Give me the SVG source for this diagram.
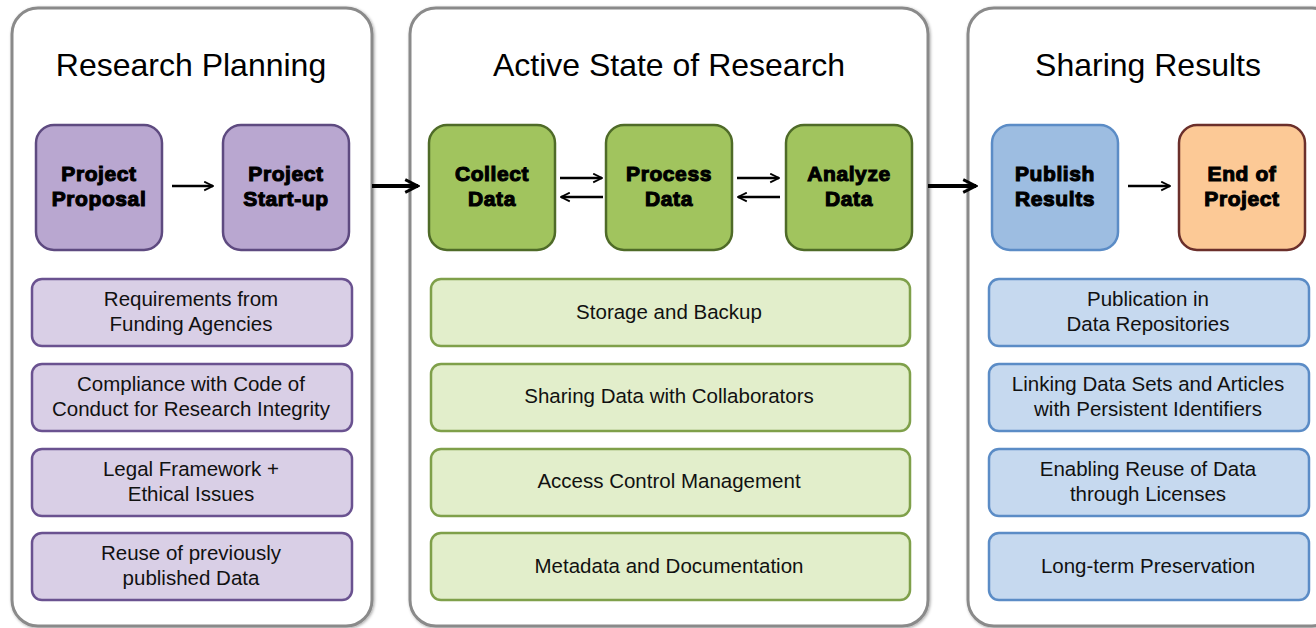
<svg xmlns="http://www.w3.org/2000/svg" width="1316" height="628" viewBox="0 0 1316 628">
<defs>
<filter id="sh" x="-5%" y="-5%" width="110%" height="110%"><feDropShadow dx="1" dy="1" stdDeviation="1.5" flood-color="#000" flood-opacity="0.35"/></filter>
<marker id="ah" viewBox="0 0 10 10" refX="9" refY="5" markerWidth="4.4" markerHeight="4.4" orient="auto" markerUnits="strokeWidth"><path d="M1,1 L9,5 L1,9" fill="none" stroke="#000" stroke-width="1.6"/></marker>
<marker id="ahb" viewBox="0 0 10 10" refX="9" refY="5" markerWidth="4" markerHeight="4" orient="auto" markerUnits="strokeWidth"><path d="M1,1 L9,5 L1,9" fill="none" stroke="#000" stroke-width="1.8"/></marker>
</defs>
<style>
.panel{fill:#fff;stroke:#8a8a8a;stroke-width:3;filter:url(#sh)}
.title{font-family:"Liberation Sans",Arial,sans-serif;font-size:32px;fill:#000;text-anchor:middle}
.big{font-family:"Liberation Sans",Arial,sans-serif;font-size:21px;font-weight:bold;fill:#000;text-anchor:middle;stroke:#000;stroke-width:1.1;letter-spacing:0.6px}
.small{font-family:"Liberation Sans",Arial,sans-serif;font-size:20.5px;fill:#111;text-anchor:middle}
.pN{fill:#b9a7d0;stroke:#5e4a80;stroke-width:2.5}
.pS{fill:#d9cfe6;stroke:#6a5290;stroke-width:2.5}
.gN{fill:#a1c45e;stroke:#4f6b28;stroke-width:2.5}
.gS{fill:#e2eecb;stroke:#7fa04a;stroke-width:2.5}
.bN{fill:#9dbde1;stroke:#5b8cc6;stroke-width:2.5}
.bS{fill:#c6d9ef;stroke:#5b8cc6;stroke-width:2.5}
.oN{fill:#fcc996;stroke:#6b2f2b;stroke-width:2.5}
.ar{stroke:#000;stroke-width:2.5;fill:none;marker-end:url(#ah)}
.arb{stroke:#000;stroke-width:4;fill:none;marker-end:url(#ahb)}
</style>
<g id="panel-planning">
<rect class="panel" x="12" y="8" width="360" height="618" rx="26"/>
<text class="title" x="191" y="76">Research Planning</text>
</g>
<g id="panel-active">
<rect class="panel" x="410" y="8" width="518" height="618" rx="26"/>
<text class="title" x="669" y="76">Active State of Research</text>
</g>
<g id="panel-sharing">
<rect class="panel" x="968" y="8" width="370" height="618" rx="26"/>
<text class="title" x="1148" y="76">Sharing Results</text>
</g>
<g id="project-proposal"><rect class="pN" x="36" y="125" width="126" height="125" rx="18"/><text class="big" x="99" y="181">Project</text><text class="big" x="99" y="206">Proposal</text></g>
<g id="project-startup"><rect class="pN" x="223" y="125" width="126" height="125" rx="18"/><text class="big" x="286" y="181">Project</text><text class="big" x="286" y="206">Start-up</text></g>
<g id="collect-data"><rect class="gN" x="429" y="125" width="126" height="125" rx="18"/><text class="big" x="492" y="181">Collect</text><text class="big" x="492" y="206">Data</text></g>
<g id="process-data"><rect class="gN" x="606" y="125" width="126" height="125" rx="18"/><text class="big" x="669" y="181">Process</text><text class="big" x="669" y="206">Data</text></g>
<g id="analyze-data"><rect class="gN" x="786" y="125" width="126" height="125" rx="18"/><text class="big" x="849" y="181">Analyze</text><text class="big" x="849" y="206">Data</text></g>
<g id="publish-results"><rect class="bN" x="992" y="125" width="126" height="125" rx="18"/><text class="big" x="1055" y="181">Publish</text><text class="big" x="1055" y="206">Results</text></g>
<g id="end-of-project"><rect class="oN" x="1179" y="125" width="126" height="125" rx="18"/><text class="big" x="1242" y="181">End of</text><text class="big" x="1242" y="206">Project</text></g>
<g id="req-funding"><rect class="pS" x="32" y="279" width="320" height="67" rx="10"/><text class="small" x="191" y="306">Requirements from</text><text class="small" x="191" y="331">Funding Agencies</text></g>
<g id="compliance"><rect class="pS" x="32" y="364" width="320" height="67" rx="10"/><text class="small" x="191" y="391">Compliance with Code of</text><text class="small" x="191" y="416">Conduct for Research Integrity</text></g>
<g id="legal"><rect class="pS" x="32" y="449" width="320" height="67" rx="10"/><text class="small" x="191" y="476">Legal Framework +</text><text class="small" x="191" y="501">Ethical Issues</text></g>
<g id="reuse-prev"><rect class="pS" x="32" y="533" width="320" height="67" rx="10"/><text class="small" x="191" y="560">Reuse of previously</text><text class="small" x="191" y="585">published Data</text></g>
<g id="storage"><rect class="gS" x="431" y="279" width="479" height="67" rx="10"/><text class="small" x="669" y="319">Storage and Backup</text></g>
<g id="sharing-collab"><rect class="gS" x="431" y="364" width="479" height="67" rx="10"/><text class="small" x="669" y="403">Sharing Data with Collaborators</text></g>
<g id="access-control"><rect class="gS" x="431" y="449" width="479" height="67" rx="10"/><text class="small" x="669" y="488">Access Control Management</text></g>
<g id="metadata"><rect class="gS" x="431" y="533" width="479" height="67" rx="10"/><text class="small" x="669" y="573">Metadata and Documentation</text></g>
<g id="publication-repo"><rect class="bS" x="989" y="279" width="320" height="67" rx="10"/><text class="small" x="1148" y="306">Publication in</text><text class="small" x="1148" y="331">Data Repositories</text></g>
<g id="linking"><rect class="bS" x="989" y="364" width="320" height="67" rx="10"/><text class="small" x="1148" y="391">Linking Data Sets and Articles</text><text class="small" x="1148" y="416">with Persistent Identifiers</text></g>
<g id="enabling-reuse"><rect class="bS" x="989" y="449" width="320" height="67" rx="10"/><text class="small" x="1148" y="476">Enabling Reuse of Data</text><text class="small" x="1148" y="501">through Licenses</text></g>
<g id="long-term"><rect class="bS" x="989" y="533" width="320" height="67" rx="10"/><text class="small" x="1148" y="573">Long-term Preservation</text></g>
<g id="connectors">
<line class="ar" x1="172" y1="186" x2="213" y2="186"/>
<line class="arb" x1="372" y1="186" x2="418" y2="186"/>
<line class="ar" x1="560" y1="178" x2="602" y2="178"/>
<line class="ar" x1="603" y1="197" x2="561" y2="197"/>
<line class="ar" x1="737" y1="178" x2="779" y2="178"/>
<line class="ar" x1="780" y1="197" x2="738" y2="197"/>
<line class="arb" x1="928" y1="186" x2="976" y2="186"/>
<line class="ar" x1="1128" y1="186" x2="1170" y2="186"/>
</g>
</svg>
